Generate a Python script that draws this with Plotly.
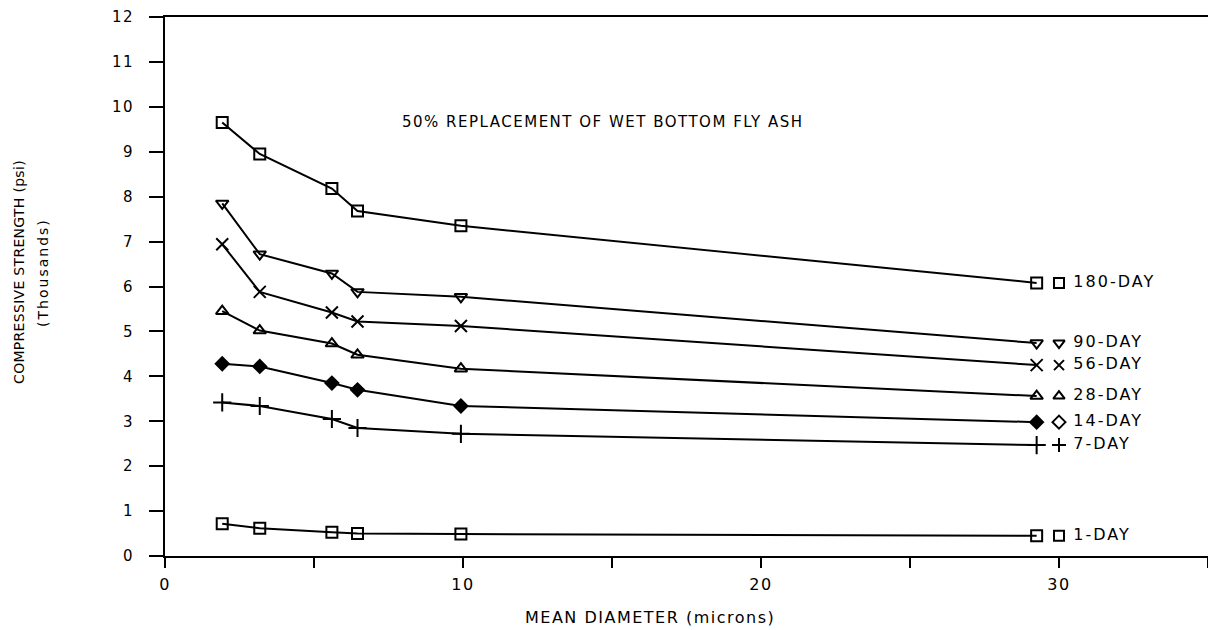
import plotly.graph_objects as go

# Mean particle diameter (microns) of the fly ash fractions
diameter = [1.92, 3.18, 5.6, 6.46, 9.93, 29.25]

# Compressive strength (thousands of psi) by curing age
strength_180 = [9.65, 8.95, 8.18, 7.68, 7.35, 6.08]
strength_90 = [7.85, 6.72, 6.29, 5.88, 5.77, 4.74]
strength_56 = [6.94, 5.88, 5.42, 5.22, 5.12, 4.25]
strength_28 = [5.45, 5.02, 4.73, 4.48, 4.17, 3.56]
strength_14 = [4.28, 4.22, 3.85, 3.70, 3.34, 2.98]
strength_7 = [3.42, 3.34, 3.05, 2.85, 2.72, 2.47]
strength_1 = [0.72, 0.62, 0.53, 0.50, 0.49, 0.45]

ages = ["180-DAY", "90-DAY", "56-DAY", "28-DAY", "14-DAY", "7-DAY", "1-DAY"]
series = [strength_180, strength_90, strength_56, strength_28,
          strength_14, strength_7, strength_1]
line_symbols = ["square-open", "triangle-down-open", "x-thin-open",
                "triangle-up-open", "diamond", "cross-thin-open", "square-open"]
line_sizes = [11, 11, 12, 11, 10, 13, 11]
key_symbols = ["square-open", "triangle-down-open", "x-thin-open",
               "triangle-up-open", "diamond-open", "cross-thin-open", "square-open"]
key_x = 30.0

x_ticks = [0, 5, 10, 15, 20, 25, 30, 35]
x_tick_text = ["0", "", "10", "", "20", "", "30", ""]
y_ticks = list(range(0, 13))

FONT = "DejaVu Sans"
INK = "black"


def spaced(text, px):
    """Wrap text in a span with extra letter spacing (plotter lettering)."""
    return f'<span style="letter-spacing:{px}px">{text}</span>'


fig = go.Figure()

for name, vals, sym, sz in zip(ages, series, line_symbols, line_sizes):
    fig.add_trace(go.Scatter(
        x=diameter, y=vals, mode="lines+markers", name=name,
        line=dict(color=INK, width=2),
        marker=dict(symbol=sym, size=sz, color=INK,
                    line=dict(color=INK, width=2)),
        showlegend=False,
    ))

# Inline key: one marker plus age label at the end of each curve
for name, vals, sym in zip(ages, series, key_symbols):
    fig.add_trace(go.Scatter(
        x=[key_x], y=[vals[-1]], mode="markers+text",
        text=[spaced(" " + name, 2)], textposition="middle right",
        textfont=dict(family=FONT, size=16, color=INK),
        marker=dict(symbol=sym, size=10, color=INK,
                    line=dict(color=INK, width=2)),
        showlegend=False, cliponaxis=False,
    ))

fig.add_annotation(
    x=7.89, y=9.67, xref="x", yref="y", xanchor="left", yanchor="middle",
    text=spaced("50% REPLACEMENT OF WET BOTTOM FLY ASH", 1.5),
    showarrow=False, font=dict(family=FONT, size=15, color=INK),
)

fig.add_annotation(
    x=12.0, y=-0.115, xref="x", yref="paper", xanchor="left",
    yanchor="middle",
    text=spaced("MEAN DIAMETER (microns)", 1.5), showarrow=False,
    font=dict(family=FONT, size=16, color=INK),
)

# Two-line vertical axis title
fig.add_annotation(
    x=-0.140, y=0.527, xref="paper", yref="paper",
    xanchor="center", yanchor="middle",
    text=spaced("COMPRESSIVE STRENGTH (psi)", 0.3), textangle=-90,
    showarrow=False, font=dict(family=FONT, size=14, color=INK),
)
fig.add_annotation(
    x=-0.117, y=0.527, xref="paper", yref="paper",
    xanchor="center", yanchor="middle",
    text=spaced("(Thousands)", 2), textangle=-90, showarrow=False,
    font=dict(family=FONT, size=14, color=INK),
)

fig.update_layout(
    width=1208, height=630,
    margin=dict(l=165, r=0, t=17, b=74),
    paper_bgcolor="white", plot_bgcolor="white",
    font=dict(family=FONT, size=15, color=INK),
    xaxis=dict(
        range=[0, 35], tickvals=x_ticks,
        ticktext=[spaced(t, 1.5) for t in x_tick_text],
        ticks="outside", ticklen=10, tickwidth=2, tickcolor=INK,
        ticklabelstandoff=3,
        showline=True, linecolor=INK, linewidth=2, mirror=True,
        showgrid=False, zeroline=False,
        tickfont=dict(family=FONT, size=16, color=INK),
    ),
    yaxis=dict(
        range=[0, 12], tickvals=y_ticks,
        ticktext=[spaced(str(v), 1.5) for v in y_ticks],
        ticks="outside", ticklen=14, tickwidth=2, tickcolor=INK,
        ticklabelstandoff=12,
        showline=True, linecolor=INK, linewidth=2,
        showgrid=False, zeroline=False,
        tickfont=dict(family=FONT, size=15, color=INK),
    ),
)

fig.write_html("out.html")
